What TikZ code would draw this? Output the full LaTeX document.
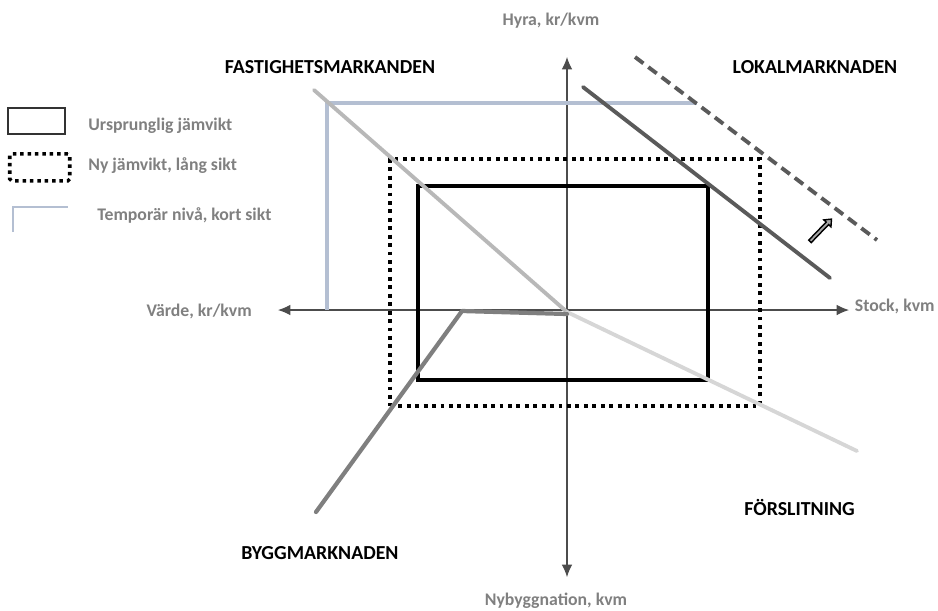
\documentclass[tikz,border=0pt]{standalone}
\usepackage{fontspec}
\setmainfont{Carlito}
\usepackage{xcolor}
\usetikzlibrary{arrows.meta}
\usetikzlibrary{shapes.arrows}
\usetikzlibrary{positioning}

\definecolor{axislabel}{HTML}{808080}
\definecolor{tempblue}{HTML}{B4BFD2}
\definecolor{fastgray}{HTML}{B8B8B8}
\definecolor{slitgray}{HTML}{D6D6D6}
\definecolor{lokalgray}{HTML}{5A5A5A}
\definecolor{bygggray}{HTML}{7F7F7F}

\tikzset{
  marknad/.style={font=\fontsize{11.3}{13}\selectfont\bfseries, text=black},
  axeltext/.style={font=\fontsize{10.1}{12}\selectfont\bfseries, text=axislabel},
  axel/.style={draw=black!70, line width=0.6pt},
  jamvikt/.style={draw=black, line width=2.2pt},
  nyjamvikt/.style={draw=black, line width=2.2pt, dash pattern=on 2.2pt off 2.6pt},
}

\begin{document}
\begin{tikzpicture}[x=0.02cm, y=-0.02cm]
\useasboundingbox (0,0) rectangle (938,610);

% axes
\coordinate (top) at (567,57);
\coordinate (bot) at (567,577);
\coordinate (lft) at (278,310);
\coordinate (rgt) at (849,310);
\begin{scope}[>={Latex[length=7pt,width=6pt]}]
	\draw [axel, <->] (bot) -- (top);
	\draw [axel, <->] (lft) -- (rgt);
\end{scope}
\node at (551,21)[axeltext] (hyra) {Hyra, kr/kvm};
\node at (556,601)[axeltext] (nybygg) {Nybyggnation, kvm};
\node at (258,311)[axeltext, anchor=east] (varde) {Värde, kr/kvm};
\node at (935,306)[axeltext, anchor=east, inner sep=0pt] (stock) {Stock, kvm};

% market titles
\node at (330,67)[marknad] (fast) {FASTIGHETSMARKANDEN};
\node at (815,67)[marknad] (lokal) {LOKALMARKNADEN};
\node at (320,553)[marknad] (bygg) {BYGGMARKNADEN};
\node at (861,507)[marknad, anchor=east] (slit) {FÖRSLITNING};

% equilibria
\node at (388,157)[nyjamvikt, minimum width=7.4cm, minimum height=4.94cm, anchor=north west] (ny) {};
\node at (416,184)[jamvikt, minimum width=5.8cm, minimum height=3.88cm, anchor=north west] (urspr) {};

% temporary level
\coordinate (t1) at (327,310);
\coordinate (t2) at (327,103);
\coordinate (t3) at (697,103);
\draw [tempblue, line width=2.2pt] (t1) -- (t2) -- (t3);

% curves
\coordinate (o) at (567,312);
\coordinate (f1) at (314,90);
\coordinate (s1) at (857,451);
\draw [fastgray, line width=2.2pt, line cap=round] (f1) -- (o);
\draw [slitgray, line width=2.2pt, line cap=round] (o) -- (s1);
\coordinate (b1) at (567,314);
\coordinate (b2) at (462,311);
\coordinate (b3) at (316,512);
\draw [bygggray, line width=2.4pt, line cap=round, line join=round] (b1) -- (b2) -- (b3);
\coordinate (l1) at (583,87);
\coordinate (l2) at (830,278);
\coordinate (l3) at (635,57);
\coordinate (l4) at (877,240);
\draw [lokalgray, line width=2.2pt, line cap=round] (l1) -- (l2);
\draw [lokalgray, line width=2.2pt, dash pattern=on 6pt off 3.5pt] (l3) -- (l4);
\node at (820,231)[single arrow, draw=black, fill=gray!70, line width=0.8pt, rotate=46, minimum height=0.62cm, inner sep=0.6pt, single arrow head extend=1.8pt, single arrow tip angle=80] (skift) {};

% legend
\node at (7,107)[draw=black!80, line width=1.2pt, minimum width=1.14cm, minimum height=0.52cm, anchor=north west] (lg1) {};
\node at (88,126)[axeltext, anchor=west, inner sep=0pt] (lt1) {Ursprunglig jämvikt};
\node at (8,152)[draw=black, line width=2pt, dash pattern=on 2pt off 2.2pt, rounded corners=1pt, minimum width=1.2cm, minimum height=0.54cm, anchor=north west] (lg2) {};
\node at (88,166)[axeltext, anchor=west, inner sep=0pt] (lt2) {Ny jämvikt, lång sikt};
\coordinate (lg3a) at (13,232);
\coordinate (lg3b) at (13,207);
\coordinate (lg3c) at (68,207);
\draw [tempblue, line width=1.4pt] (lg3a) -- (lg3b) -- (lg3c);
\node at (97,215)[axeltext, anchor=west, inner sep=0pt] (lt3) {Temporär nivå, kort sikt};

\end{tikzpicture}
\end{document}
